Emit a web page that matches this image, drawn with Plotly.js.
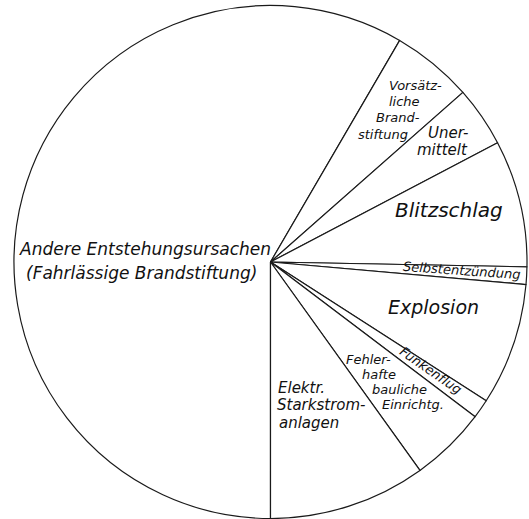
<!DOCTYPE html>
<html>
<head>
<meta charset="utf-8">
<script src="https://cdn.plot.ly/plotly-3.0.1.min.js"></script>
<style>html,body{margin:0;padding:0;background:#fff;}#chart{width:529px;height:519px;}</style>
</head>
<body>
<div id="chart"></div>
<script>
// Data (share of fire causes, %), clockwise starting at 6 o'clock
const categories = [
  "Andere Entstehungsursachen (Fahrlässige Brandstiftung)",
  "Vorsätzliche Brandstiftung",
  "Unermittelt",
  "Blitzschlag",
  "Selbstentzündung",
  "Explosion",
  "Funkenflug",
  "Fehlerhafte bauliche Einrichtg.",
  "Elektr. Starkstromanlagen"
];
const values = [58.4, 5.1, 3.8, 8.0, 1.1, 7.7, 1.2, 4.8, 9.9];

// Label text lines as drawn on the chart
const labelLines = [
  ["Andere Entstehungsursachen", "(Fahrlässige Brandstiftung)"],
  ["Vorsätz-", "liche", "Brand-", "stiftung"],
  ["Uner-", "mittelt"],
  ["Blitzschlag"],
  ["Selbstentzündung"],
  ["Explosion"],
  ["Funkenflug"],
  ["Fehler-", "hafte", "bauliche", "Einrichtg."],
  ["Elektr.", "Starkstrom-", "anlagen"]
];

// Layout: pixel placement of each label line [x, y, size, anchor, angle]
const W = 529, H = 519;
const place = [
  [[145, 249, 17, 'center', 0], [141, 273, 17, 'center', 0]],
  [[415, 86, 13, 'center', 0], [404, 101, 13, 'center', 0], [398, 117, 13, 'center', 0], [383, 135, 13, 'center', 0]],
  [[448, 133, 15, 'center', 0], [442, 150, 15, 'center', 0]],
  [[449, 210, 20, 'center', 0]],
  [[462, 270, 13, 'center', 4]],
  [[433, 307, 19, 'center', 0]],
  [[431, 370, 13, 'center', 35]],
  [[368, 359, 13, 'center', 0], [379, 374, 13, 'center', 0], [399, 389, 13, 'center', 0], [413, 404, 13, 'center', 0]],
  [[276, 388, 15, 'left', 0], [275, 405, 15, 'left', 0], [277, 423, 15, 'left', 0]]
];

const annotations = [];
labelLines.forEach((lines, i) => {
  lines.forEach((t, j) => {
    const p = place[i][j];
    annotations.push({
      xref: 'paper', yref: 'paper',
      x: p[0] / W, y: 1 - p[1] / H,
      xanchor: p[3], yanchor: 'middle',
      text: '<i>' + t + '</i>',
      showarrow: false,
      textangle: p[4],
      font: {family: 'DejaVu Sans', size: p[2], color: '#111'}
    });
  });
});

const cx = 270.5, cy = 262, r = 256.5;
const trace = {
  type: 'pie',
  labels: categories,
  values: values,
  sort: false,
  direction: 'clockwise',
  rotation: 180,
  textinfo: 'none',
  hoverinfo: 'label+percent',
  showlegend: false,
  marker: {colors: categories.map(() => '#ffffff'), line: {color: '#1a1a1a', width: 1.2}},
  domain: {x: [(cx - r) / W, (cx + r) / W], y: [(H - cy - r) / H, (H - cy + r) / H]}
};

const layout = {
  width: W, height: H,
  margin: {l: 0, r: 0, t: 0, b: 0, pad: 0},
  paper_bgcolor: '#ffffff',
  plot_bgcolor: '#ffffff',
  showlegend: false,
  annotations: annotations
};

Plotly.newPlot('chart', [trace], layout, {displayModeBar: false, staticPlot: true});
</script>
</body>
</html>
